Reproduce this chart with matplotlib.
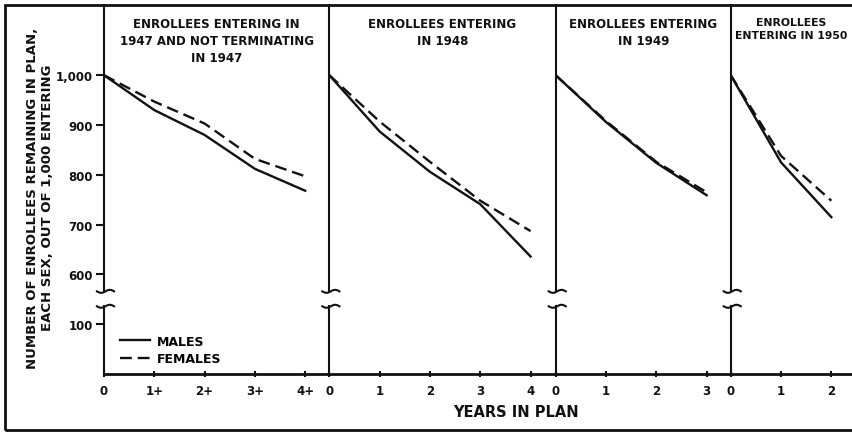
import matplotlib; matplotlib.use("Agg")
import matplotlib.pyplot as plt
import numpy as np
from matplotlib.patches import Rectangle
from matplotlib.lines import Line2D

plt.rcParams["font.family"] = "DejaVu Sans"

titles = ["ENROLLEES ENTERING IN\n1947 AND NOT TERMINATING\nIN 1947",
          "ENROLLEES ENTERING\nIN 1948",
          "ENROLLEES ENTERING\nIN 1949",
          "ENROLLEES\nENTERING IN 1950"]
years = [[0, 1, 2, 3, 4], [0, 1, 2, 3, 4], [0, 1, 2, 3], [0, 1, 2]]
xlabels = [["0", "1+", "2+", "3+", "4+"], ["0", "1", "2", "3", "4"],
           ["0", "1", "2", "3"], ["0", "1", "2"]]
males = [[1000, 930, 880, 812, 768], [1000, 887, 806, 741, 636],
         [1000, 906, 824, 759], [1000, 825, 715]]
females = [[1000, 947, 903, 832, 797], [1000, 907, 826, 748, 687],
           [1000, 908, 826, 765], [1000, 838, 748]]
yticks = [100, 600, 700, 800, 900, 1000]
ylabels = ["100", "600", "700", "800", "900", "1,000"]

# broken y axis: 140..560 squeezed into a small gap
bk_v = [0, 140, 560, 1400]
bk_y = [0, 140, 160, 1000]
fwd = lambda v: np.interp(v, bk_v, bk_y)
inv = lambda y: np.interp(y, bk_y, bk_v)

W, H = 852, 435
fig = plt.figure(figsize=(W/100, H/100), dpi=100)
PX = 50.3
spans = [4.48, 4.5, 3.48, 2.4]
tsize = [8.5, 8.5, 8.5, 7.8]
x0 = 104
bot, top = 375, 6
ink = "#111111"
TF = dict(fontweight="bold", color=ink)

for i in range(4):
    ax = fig.add_axes([x0/W, 1-bot/H, spans[i]*PX/W, (bot-top)/H])
    x0 += spans[i]*PX
    ax.set_yscale("function", functions=(fwd, inv))
    ax.set_ylim(0, 1141); ax.set_xlim(0, spans[i])
    for s in ["top", "right", "left"]: ax.spines[s].set_visible(False)
    ax.spines["bottom"].set_linewidth(2); ax.spines["bottom"].set_color(ink)
    ax.patch.set_alpha(0)
    # left axis with break
    ax.plot([0, 0], [0, 136], color=ink, lw=1.5, clip_on=False)
    ax.plot([0, 0], [566, 1141], color=ink, lw=1.5, clip_on=False)
    t = np.linspace(-1, 1, 30)
    for c in (136, 566):
        ax.plot(0.03 + t*0.17, c + 3*np.sin(np.pi*t), color=ink, lw=1.5, clip_on=False)
    ax.plot(years[i], males[i], color=ink, lw=1.7)
    ax.plot(years[i], females[i], color=ink, lw=1.7, dashes=(5, 2.5))
    ax.set_xticks(years[i], xlabels[i])
    ax.tick_params(axis="x", direction="inout", length=5, width=1.5, pad=5,
                   labelsize=8.5, colors=ink)
    for lb in ax.get_xticklabels(): lb.set_fontweight("bold")
    if i == 0:
        ax.set_yticks(yticks, ylabels)
        ax.tick_params(axis="y", direction="out", length=6, width=1.5, pad=2,
                       labelsize=8.5, colors=ink)
        for lb in ax.get_yticklabels(): lb.set_fontweight("bold")
        h = [Line2D([], [], color=ink, lw=1.7),
             Line2D([], [], color=ink, lw=1.7, dashes=(5, 2.5))]
        ax.legend(h, ["MALES", "FEMALES"], loc="upper left",
                  bbox_to_anchor=(0.05, 0.12), frameon=False,
                  handlelength=2.4, handletextpad=0.5, labelspacing=0.35,
                  prop=dict(size=9, weight="bold"), borderaxespad=0)
    else:
        ax.set_yticks([])
    ax.text(0.5, 1-(18-top)/(bot-top), titles[i], ha="center", va="top",
            transform=ax.transAxes, fontsize=tsize[i], linespacing=1.4, **TF)

fig.text(40/W, 1-198/H, "NUMBER OF ENROLLEES REMAINING IN PLAN,\nEACH SEX, OUT OF 1,000 ENTERING",
         rotation=90, ha="center", va="center", fontsize=9.5, linespacing=1.2, **TF)
fig.text(516/W, 1-413/H, "YEARS IN PLAN", ha="center", va="center", fontsize=10.5, **TF)
fig.patches.append(Rectangle((5/W, 1-431/H), 1.1, (431-6)/H, transform=fig.transFigure,
                             fill=False, lw=2, ec=ink, clip_on=False))
fig.savefig("out.png", dpi=100)
